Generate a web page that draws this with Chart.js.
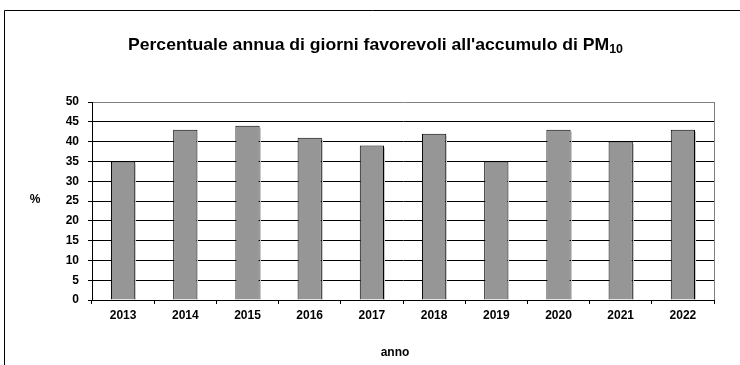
<!DOCTYPE html>
<html>
<head>
<meta charset="utf-8">
<script src="https://cdn.jsdelivr.net/npm/chart.js@4.4.0/dist/chart.umd.min.js"></script>
<style>
    body { margin: 0; background: #fff; }
    canvas { display: block; }
</style>
</head>
<body>
<canvas id="chart" width="740" height="365"></canvas>
<script>
const years = ["2013", "2014", "2015", "2016", "2017", "2018", "2019", "2020", "2021", "2022"];
const percentages = [35, 43, 44, 41, 39, 42, 35, 43, 40, 43];
const yMin = 0;
const yMax = 50;
const yStep = 5;

const FONT = "'Liberation Sans', Arial, sans-serif";

// frame, plot border, bar shadows, title with subscript and axis captions
const decorations = {
    id: "decorations",
    beforeDatasetsDraw(chart) {
        const {ctx, chartArea} = chart;
        ctx.save();
        ctx.strokeStyle = "#808080";
        ctx.lineWidth = 1;
        ctx.beginPath();
        ctx.moveTo(Math.round(chartArea.right) + 0.5, chartArea.top);
        ctx.lineTo(Math.round(chartArea.right) + 0.5, chartArea.bottom);
        ctx.stroke();
        ctx.restore();
    },
    afterDatasetsDraw(chart) {
        // thin light shade along the right side of every bar
        const ctx = chart.ctx;
        ctx.save();
        ctx.fillStyle = "#c8c8c8";
        chart.getDatasetMeta(0).data.forEach((bar) => {
            const right = Math.round(bar.x + bar.width / 2);
            ctx.fillRect(right, bar.y + 2, 1, bar.base - bar.y - 2);
        });
        ctx.restore();
    },
    afterDraw(chart) {
        const ctx = chart.ctx;
        ctx.save();

        // outer frame
        ctx.strokeStyle = "#000";
        ctx.lineWidth = 1;
        ctx.beginPath();
        ctx.moveTo(4.5, 365);
        ctx.lineTo(4.5, 10.5);
        ctx.lineTo(740, 10.5);
        ctx.stroke();

        ctx.fillStyle = "#000";
        ctx.textBaseline = "alphabetic";

        // title: main text plus subscript "10"
        const main = "Percentuale annua di giorni favorevoli all'accumulo di PM";
        const sub = "10";
        ctx.font = "bold 17px " + FONT;
        const wMain = ctx.measureText(main).width;
        ctx.font = "bold 12px " + FONT;
        const wSub = ctx.measureText(sub).width;
        const total = wMain + wSub;
        const sx = 495 / total;
        const startX = 375.5 - (total * sx) / 2;
        ctx.save();
        ctx.translate(startX, 0);
        ctx.scale(sx, 1);
        ctx.textAlign = "left";
        ctx.font = "bold 17px " + FONT;
        ctx.fillText(main, 0, 50);
        ctx.font = "bold 12px " + FONT;
        ctx.fillText(sub, wMain, 53);
        ctx.restore();

        ctx.textAlign = "center";
        ctx.textBaseline = "middle";
        ctx.font = "bold 12px " + FONT;
        ctx.fillText("%", 35, 200);
        ctx.fillText("anno", 395, 353);

        ctx.restore();
    }
};

new Chart(document.getElementById("chart"), {
    type: "bar",
    data: {
        labels: years,
        datasets: [{
            data: percentages,
            backgroundColor: "#969696",
            borderColor: "#000",
            borderWidth: 1,
            barPercentage: 0.39,
            categoryPercentage: 1
        }]
    },
    options: {
        responsive: false,
        animation: false,
        devicePixelRatio: 1,
        layout: {
            padding: {top: 102, right: 26, left: 0, bottom: 0}
        },
        plugins: {
            legend: {display: false},
            title: {display: false},
            tooltip: {enabled: false}
        },
        scales: {
            x: {
                grid: {
                    offset: true,
                    drawOnChartArea: false,
                    drawTicks: true,
                    tickLength: 4,
                    tickColor: "#000"
                },
                border: {color: "#000", width: 1},
                ticks: {
                    color: "#000",
                    padding: 4,
                    maxRotation: 0,
                    font: {family: FONT, size: 12, weight: "bold"}
                },
                afterFit(scale) {
                    scale.height = 65;
                }
            },
            y: {
                min: yMin,
                max: yMax,
                grid: {
                    color: (c) => (c.tick && c.tick.value === yMax ? "#808080" : "#000"),
                    tickColor: "#000",
                    tickLength: 4,
                    lineWidth: 1
                },
                border: {color: "#000", width: 1},
                ticks: {
                    stepSize: yStep,
                    color: "#000",
                    padding: 9,
                    font: {family: FONT, size: 12, weight: "bold"}
                },
                afterFit(scale) {
                    scale.width = 92;
                }
            }
        }
    },
    plugins: [decorations]
});
</script>
</body>
</html>
